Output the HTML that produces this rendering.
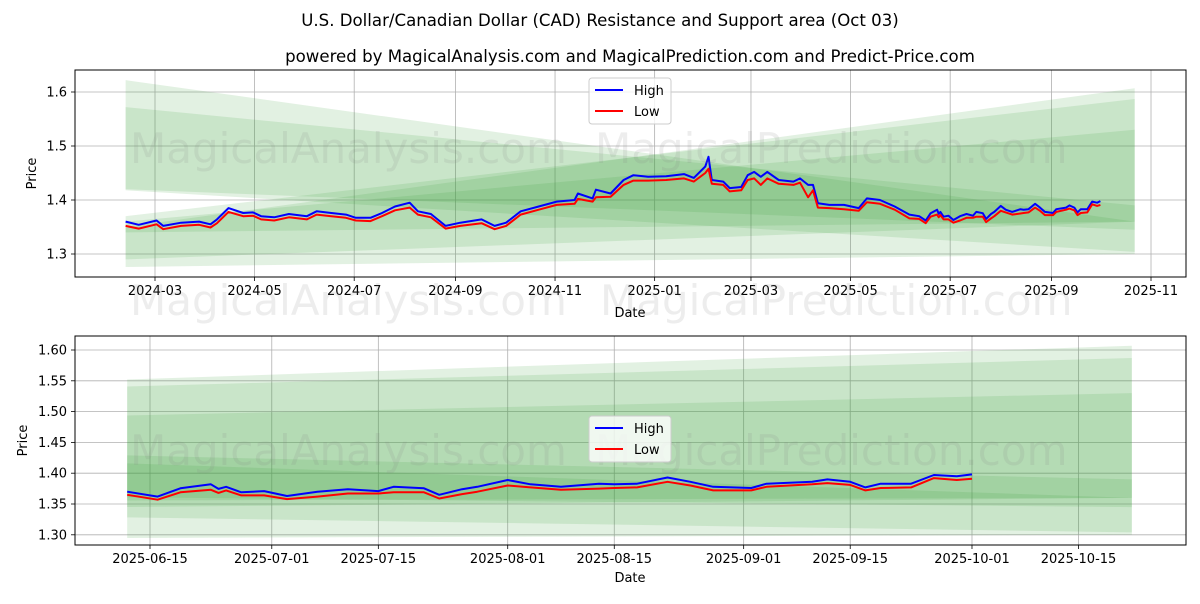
<!DOCTYPE html>
<html><head><meta charset="utf-8"><style>
body{margin:0;background:#fff;font-family:"DejaVu Sans","Liberation Sans",sans-serif}
svg text{font-family:"DejaVu Sans","Liberation Sans",sans-serif}
</style></head><body>
<svg id="c" width="1200" height="600" viewBox="0 0 1200 600" xmlns="http://www.w3.org/2000/svg">
<rect width="1200" height="600" fill="#fff"/>
<text x="600" y="26" text-anchor="middle" font-size="16.6" fill="#000">U.S. Dollar/Canadian Dollar (CAD) Resistance and Support area (Oct 03)</text>
<text x="630" y="62" text-anchor="middle" font-size="16.6" fill="#000">powered by MagicalAnalysis.com and MagicalPrediction.com and Predict-Price.com</text>
<defs>
<clipPath id="clipTop"><rect x="75" y="70" width="1111" height="207"/></clipPath>
<clipPath id="clipBot"><rect x="75" y="336" width="1111" height="209"/></clipPath>
</defs>
<g id="top"></g>
<g id="bot"></g>
</svg>
<script>
const dates=["2024-02-12","2024-02-20","2024-03-02","2024-03-06","2024-03-17","2024-03-28","2024-04-04","2024-04-08","2024-04-15","2024-04-24","2024-04-30","2024-05-05","2024-05-13","2024-05-22","2024-06-02","2024-06-08","2024-06-17","2024-06-26","2024-07-02","2024-07-11","2024-07-18","2024-07-26","2024-08-04","2024-08-09","2024-08-17","2024-08-26","2024-09-04","2024-09-17","2024-09-25","2024-10-02","2024-10-11","2024-10-22","2024-11-02","2024-11-13","2024-11-15","2024-11-24","2024-11-26","2024-12-05","2024-12-13","2024-12-19","2024-12-28","2025-01-08","2025-01-19","2025-01-25","2025-02-01","2025-02-03","2025-02-05","2025-02-12","2025-02-16","2025-02-23","2025-02-27","2025-03-03","2025-03-07","2025-03-11","2025-03-18","2025-03-27","2025-03-31","2025-04-05","2025-04-08","2025-04-11","2025-04-18","2025-04-27","2025-05-06","2025-05-11","2025-05-19","2025-05-28","2025-06-06","2025-06-12","2025-06-16","2025-06-19","2025-06-23","2025-06-24","2025-06-25","2025-06-27","2025-06-30","2025-07-03","2025-07-07","2025-07-11","2025-07-15","2025-07-17","2025-07-21","2025-07-23","2025-07-26","2025-07-28","2025-08-01","2025-08-04","2025-08-08","2025-08-13","2025-08-15","2025-08-18","2025-08-22","2025-08-25","2025-08-28","2025-09-02","2025-09-04","2025-09-10","2025-09-12","2025-09-15","2025-09-17","2025-09-19","2025-09-23","2025-09-26","2025-09-29","2025-10-01"];
const highs=[1.360,1.354,1.362,1.352,1.358,1.360,1.355,1.364,1.385,1.376,1.377,1.370,1.368,1.374,1.370,1.379,1.376,1.373,1.367,1.367,1.376,1.388,1.395,1.379,1.374,1.352,1.358,1.364,1.352,1.358,1.379,1.388,1.397,1.400,1.412,1.403,1.419,1.412,1.437,1.446,1.443,1.444,1.448,1.441,1.462,1.480,1.437,1.434,1.422,1.424,1.446,1.452,1.443,1.452,1.437,1.434,1.440,1.428,1.428,1.394,1.391,1.391,1.385,1.403,1.400,1.388,1.373,1.370,1.362,1.3755,1.382,1.3745,1.378,1.369,1.371,1.363,1.370,1.374,1.371,1.378,1.3755,1.365,1.374,1.378,1.389,1.382,1.378,1.383,1.382,1.383,1.393,1.386,1.378,1.376,1.383,1.386,1.390,1.386,1.377,1.383,1.383,1.397,1.395,1.398];
const lows=[1.352,1.347,1.355,1.346,1.352,1.354,1.349,1.357,1.378,1.370,1.371,1.364,1.362,1.368,1.364,1.373,1.370,1.367,1.362,1.361,1.370,1.381,1.386,1.373,1.368,1.347,1.352,1.357,1.346,1.352,1.373,1.382,1.391,1.393,1.402,1.397,1.405,1.406,1.428,1.436,1.436,1.437,1.440,1.434,1.450,1.458,1.430,1.428,1.416,1.418,1.437,1.440,1.428,1.440,1.430,1.428,1.432,1.405,1.418,1.386,1.385,1.383,1.380,1.396,1.393,1.382,1.366,1.365,1.357,1.369,1.373,1.368,1.372,1.364,1.364,1.358,1.362,1.367,1.367,1.369,1.369,1.359,1.366,1.370,1.380,1.377,1.373,1.375,1.376,1.377,1.386,1.380,1.372,1.372,1.378,1.382,1.384,1.381,1.372,1.376,1.377,1.392,1.389,1.391];
const bandStartDate="2024-02-12", bandEndDate="2025-10-22";
const bandStartUpper=[1.622,1.572,1.35,1.37,1.36];
const bandStartLower=[1.418,1.42,1.276,1.29,1.34];
const bandEndUpper=[1.36,1.39,1.607,1.587,1.53];
const bandEndLower=[1.304,1.345,1.30,1.36,1.36];
const topTickDates=["2024-03-01","2024-05-01","2024-07-01","2024-09-01","2024-11-01","2025-01-01","2025-03-01","2025-05-01","2025-07-01","2025-09-01","2025-11-01"];
const topTickLabels=["2024-03","2024-05","2024-07","2024-09","2024-11","2025-01","2025-03","2025-05","2025-07","2025-09","2025-11"];
const topYTicks=[1.3,1.4,1.5,1.6];
const botTickDates=["2025-06-15","2025-07-01","2025-07-15","2025-08-01","2025-08-15","2025-09-01","2025-09-15","2025-10-01","2025-10-15"];
const botYTicks=[1.30,1.35,1.40,1.45,1.50,1.55,1.60];
const botStartDate="2025-06-12";

const NS="http://www.w3.org/2000/svg";
const DAY=86400000;
const D=s=>Date.parse(s+"T00:00:00Z");
function mk(parent,tag,attrs){const e=document.createElementNS(NS,tag);for(const k in attrs)e.setAttribute(k,attrs[k]);parent.appendChild(e);return e;}

const panels=[
 {g:document.getElementById('top'),x0:75,x1:1186,y0:70,y1:277,clip:'url(#clipTop)',
  xs:d=>155+(D(d)-D("2024-03-01"))/DAY*1.6328,ys:p=>200-(p-1.4)*540,
  ticks:topTickDates,labels:topTickLabels,yt:topYTicks,yfmt:v=>v.toFixed(1),
  from:bandStartDate,name:'top',legY:78,ylabX:36,dateY:317,wm:[[130,163],[595,163],[130,315],[600,315]]},
 {g:document.getElementById('bot'),x0:75,x1:1186,y0:336,y1:545,clip:'url(#clipBot)',
  xs:d=>150+(D(d)-D("2025-06-15"))/DAY*7.611,ys:p=>350+(1.60-p)*616,
  ticks:botTickDates,labels:botTickDates,yt:botYTicks,yfmt:v=>v.toFixed(2),
  from:botStartDate,name:'bottom',legY:416,ylabX:27,dateY:582,wm:[[130,465],[595,465]]}
];
function bandAt(i,t,up){const a=D(bandStartDate),b=D(bandEndDate);const f=(D(t)-a)/(b-a);
 return up?bandStartUpper[i]+(bandEndUpper[i]-bandStartUpper[i])*f:bandStartLower[i]+(bandEndLower[i]-bandStartLower[i])*f;}

panels.forEach(P=>{
 const g=P.g;
 P.ticks.forEach((t,i)=>{const x=P.xs(t);
  const gl=mk(g,'line',{x1:x,x2:x,y1:P.y0,y2:P.y1,stroke:'#b0b0b0','stroke-width':0.8});
  
  
  mk(g,'line',{x1:x,x2:x,y1:P.y1,y2:P.y1+4,stroke:'#000','stroke-width':0.8});
  const tl=mk(g,'text',{x:x,y:P.y1+18,'text-anchor':'middle','font-size':13,fill:'#000'});
  tl.textContent=P.labels[i];
  
  
 });
 P.yt.forEach(v=>{const y=P.ys(v);
  const gl=mk(g,'line',{x1:P.x0,x2:P.x1,y1:y,y2:y,stroke:'#b0b0b0','stroke-width':0.8});
  
  
  mk(g,'line',{x1:P.x0-4,x2:P.x0,y1:y,y2:y,stroke:'#000','stroke-width':0.8});
  const tl=mk(g,'text',{x:P.x0-8,y:y+4.5,'text-anchor':'end','font-size':13,fill:'#000'});
  tl.textContent=P.yfmt(v);
  
  
 });
 const cg=mk(g,'g',{'clip-path':P.clip});
 bandStartUpper.forEach((_,i)=>{
  const a=P.from,b=bandEndDate;
  const pts=[[P.xs(a),P.ys(bandAt(i,a,true))],[P.xs(b),P.ys(bandAt(i,b,true))],[P.xs(b),P.ys(bandAt(i,b,false))],[P.xs(a),P.ys(bandAt(i,a,false))]];
  const pg=mk(cg,'polygon',{points:pts.map(p=>p.join(',')).join(' '),fill:'rgb(60,160,60)','fill-opacity':0.15});
  
  
 });
 const wmt=["MagicalAnalysis.com","MagicalPrediction.com"];
 P.wm.forEach((w,i)=>{const t=mk(g,'text',{x:w[0],y:w[1],'font-size':42,fill:'#888','fill-opacity':0.15});
  t.textContent=wmt[i%2];
  
  });
 const idx=dates.map((d,i)=>i).filter(i=>D(dates[i])>=D(P.from));
 const mkLine=(arr,col,nm)=>{const l=mk(cg,'polyline',{points:idx.map(i=>P.xs(dates[i]).toFixed(1)+','+P.ys(arr[i]).toFixed(1)).join(' '),fill:'none',stroke:col,'stroke-width':2,'stroke-linejoin':'round'});
  
  };
 mkLine(highs,'#0000ff','high-line');
 mkLine(lows,'#ff0000','low-line');
 const fr=mk(g,'rect',{x:P.x0,y:P.y0,width:P.x1-P.x0,height:P.y1-P.y0,fill:'none',stroke:'#000','stroke-width':1});
 
 
 const yl=mk(g,'text',{x:P.ylabX,y:(P.y0+P.y1)/2,'text-anchor':'middle','font-size':13,transform:`rotate(-90 ${P.ylabX} ${(P.y0+P.y1)/2})`});
 yl.textContent='Price';
 
 
 const xl=mk(g,'text',{x:630,y:P.dateY,'text-anchor':'middle','font-size':13});
 xl.textContent='Date';
 
 
 const lg=mk(g,'g',{});
 
 
 mk(lg,'rect',{x:589,y:P.legY,width:82,height:46,rx:3,fill:'#fff','fill-opacity':0.8,stroke:'#ccc'});
 [['High','#0000ff'],['Low','#ff0000']].forEach((e,i)=>{const y=P.legY+12+i*21;
  const ent=mk(lg,'g',{});
  
  
  mk(ent,'line',{x1:595,x2:623,y1:y,y2:y,stroke:e[1],'stroke-width':2});
  const t=mk(ent,'text',{x:634,y:y+5,'font-size':13});t.textContent=e[0];});
});
</script>
</body></html>
